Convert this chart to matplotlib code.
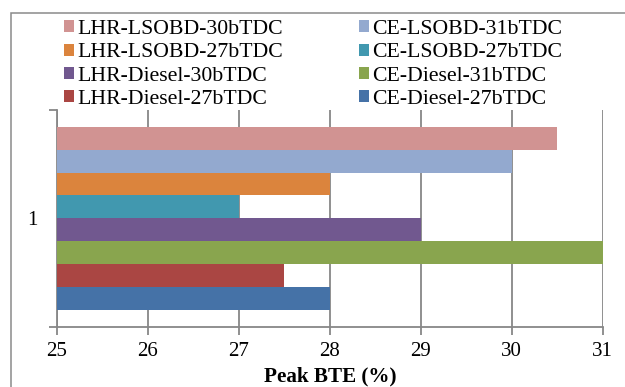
import matplotlib
matplotlib.use("Agg")
import matplotlib.pyplot as plt
from matplotlib.patches import Rectangle

plt.rcParams['font.family'] = ['Liberation Serif', 'DejaVu Serif']

# data (bottom to top)
series = ["CE-Diesel-27bTDC", "LHR-Diesel-27bTDC", "CE-Diesel-31bTDC", "LHR-Diesel-30bTDC",
          "CE-LSOBD-27bTDC", "LHR-LSOBD-27bTDC", "CE-LSOBD-31bTDC", "LHR-LSOBD-30bTDC"]
values = [28.0, 27.5, 31.0, 29.0, 27.0, 28.0, 30.0, 30.5]
colors = ["#4572A7", "#AA4643", "#89A54E", "#71588F",
          "#4198AF", "#DB843D", "#93A9CF", "#D19392"]
x_ticks = [25, 26, 27, 28, 29, 30, 31]
category = "1"
x_label = "Peak BTE (%)"
legend_order = ["LHR-LSOBD-30bTDC", "LHR-LSOBD-27bTDC", "LHR-Diesel-30bTDC", "LHR-Diesel-27bTDC",
                "CE-LSOBD-31bTDC", "CE-LSOBD-27bTDC", "CE-Diesel-31bTDC", "CE-Diesel-27bTDC"]

W, H = 625, 387
fig = plt.figure(figsize=(W / 100, H / 100), dpi=100)
fig.patch.set_facecolor("white")

# outer chart border
fig.patches.append(Rectangle((11 / W, -0.1), 2.0, 1 - 13 / H + 0.1, transform=fig.transFigure,
                             fill=False, edgecolor="#8a8a8a", linewidth=1.1, clip_on=False))

ax = fig.add_axes([57 / W, 1 - 326.7 / H, (602.7 - 57) / W, (326.7 - 110) / H])
gray = "#878787"
xmin = x_ticks[0]
handles = {}
for i, (name, v, c) in enumerate(zip(series, values, colors)):
    b = ax.barh(i, v - xmin, left=xmin, height=1.0, color=c, edgecolor="none", zorder=3, label=name)
    handles[name] = b

pad = 0.735
ax.set_ylim(-0.5 - pad, len(series) - 0.5 + pad)
ax.set_xlim(x_ticks[0], x_ticks[-1])
ax.set_xticks(x_ticks)
ax.set_xticklabels([str(t) for t in x_ticks], fontsize=15)
ax.grid(axis="x", color=gray, linewidth=1.3, zorder=0)
ax.set_axisbelow(True)

ax.set_yticks([(len(series) - 1) / 2])
ax.set_yticklabels([category], fontsize=15)
ax.tick_params(axis="y", which="major", length=0, pad=14)
ax.set_yticks([ax.get_ylim()[0], ax.get_ylim()[1]], minor=True)
ax.tick_params(axis="y", which="minor", length=6, width=1.3, color=gray, direction="out")
ax.tick_params(axis="x", which="major", length=6, width=1.3, color=gray, direction="out", pad=5)

for s in ["top", "right"]:
    ax.spines[s].set_visible(False)
for s in ["left", "bottom"]:
    ax.spines[s].set_color(gray)
    ax.spines[s].set_linewidth(1.3)

ax.set_xlabel(x_label, fontsize=15.2, fontweight="bold", labelpad=4)

leg = fig.legend([handles[n] for n in legend_order], legend_order, ncol=2, loc="upper left",
                 bbox_to_anchor=(64 / W, 1 - 20 / H), bbox_transform=fig.transFigure,
                 frameon=False, fontsize=15.7, handlelength=0.47, handleheight=0.47,
                 handletextpad=0.15, columnspacing=3.47, labelspacing=0.2,
                 borderpad=0, borderaxespad=0)

fig.savefig("out.png", dpi=100, facecolor="white")
